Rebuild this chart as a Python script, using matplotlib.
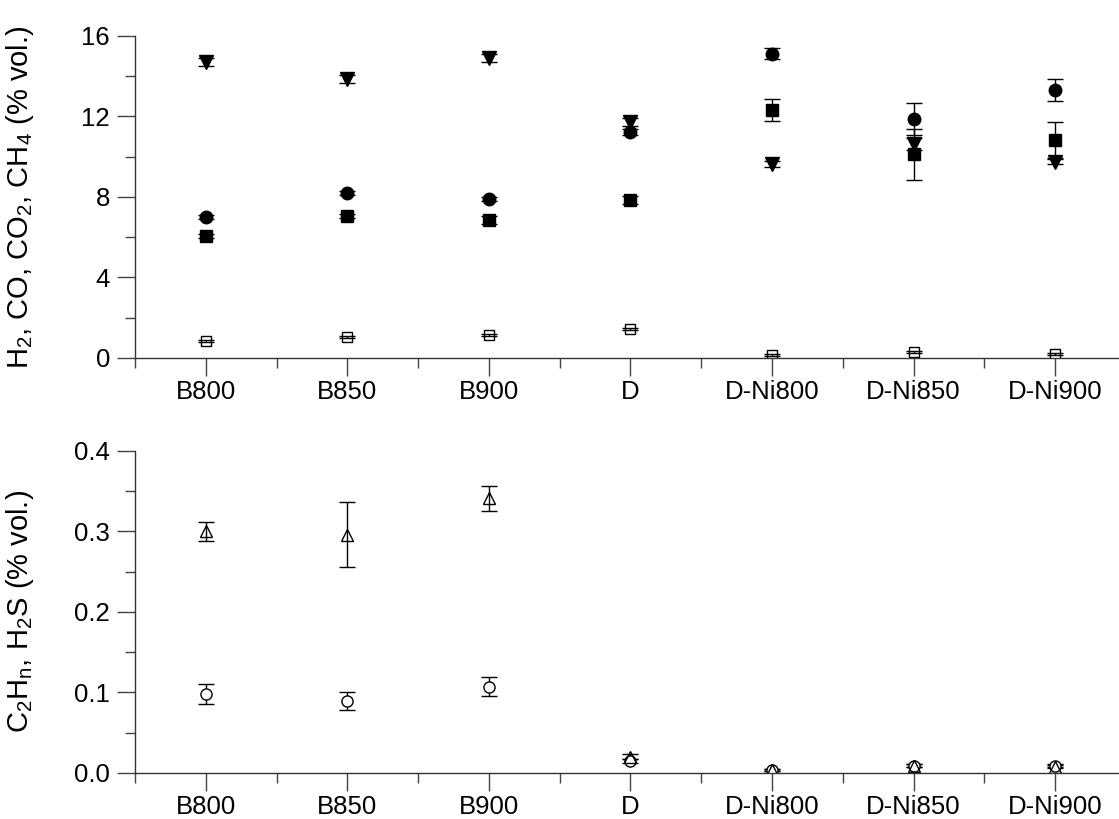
import numpy as np
import matplotlib
matplotlib.use("Agg")
import matplotlib.pyplot as plt
from matplotlib.ticker import MultipleLocator, FixedLocator

plt.rcParams['font.family'] = ['Liberation Sans', 'DejaVu Sans']
plt.rcParams['mathtext.fontset'] = 'custom'
plt.rcParams['mathtext.rm'] = 'Liberation Sans'
plt.rcParams['mathtext.it'] = 'Liberation Sans'

categories = ["B800", "B850", "B900", "D", "D-Ni800", "D-Ni850", "D-Ni900"]

# top panel (% vol.)
h2 = [6.99, 8.20, 7.90, 11.25, 15.12, 11.88, 13.32]
h2_err = [0.10, 0.10, 0.10, 0.15, 0.27, 0.78, 0.55]
co = [14.72, 13.85, 14.89, 11.74, 9.62, 10.63, 9.76]
co_err = [0.20, 0.20, 0.20, 0.20, 0.15, 0.28, 0.12]
co2 = [6.06, 7.06, 6.86, 7.85, 12.32, 10.12, 10.83]
co2_err = [0.10, 0.10, 0.20, 0.20, 0.55, 1.27, 0.91]
ch4 = [0.84, 1.03, 1.14, 1.43, 0.15, 0.31, 0.20]
ch4_err = [0.05, 0.05, 0.06, 0.06, 0.03, 0.05, 0.04]

# bottom panel (% vol.)
c2hn = [0.300, 0.296, 0.341, 0.020, 0.004, 0.009, 0.008]
c2hn_err = [0.012, 0.040, 0.016, 0.003, 0.001, 0.002, 0.002]
h2s = [0.098, 0.089, 0.107, 0.015, 0.004, 0.009, 0.009]
h2s_err = [0.012, 0.011, 0.012, 0.002, 0.001, 0.002, 0.002]

x = np.arange(len(categories))

fig = plt.figure(figsize=(11.19, 8.19), dpi=100)
ax1 = fig.add_axes([0.1206, 0.5629, 0.8856, 0.3932])
ax2 = fig.add_axes([0.1206, 0.0562, 0.8856, 0.3932])

eb = dict(ls='none', color='black', ecolor='black', elinewidth=1.0,
          capsize=6, capthick=1.0)

ax1.errorbar(x, ch4, yerr=ch4_err, marker='s', ms=7, mfc='none', mec='black', mew=1.0, **eb)
ax1.errorbar(x, co2, yerr=co2_err, marker='s', ms=8, mfc='black', mec='black', **eb)
ax1.errorbar(x, co, yerr=co_err, marker='v', ms=10, mfc='black', mec='black', **eb)
ax1.errorbar(x, h2, yerr=h2_err, marker='o', ms=9, mfc='black', mec='black', **eb)

ax2.errorbar(x, h2s, yerr=h2s_err, marker='o', ms=8, mfc='white', mec='black', mew=1.0, **eb)
ax2.errorbar(x, c2hn, yerr=c2hn_err, marker='^', ms=9, mfc='none', mec='black', mew=1.0, **eb)

for ax in (ax1, ax2):
    ax.set_xlim(-0.5, 6.5)
    ax.set_xticks(x)
    ax.set_xticklabels(categories)
    ax.xaxis.set_minor_locator(FixedLocator(np.arange(-0.5, 7, 1.0)))
    ax.spines['top'].set_visible(False)
    ax.spines['right'].set_visible(False)
    for s in ('left', 'bottom'):
        ax.spines[s].set_linewidth(1.0)
        ax.spines[s].set_color('#333333')
    ax.tick_params(which='major', direction='out', length=13, width=1.0,
                   color='#444444', labelsize=18.5, pad=3)
    ax.tick_params(which='minor', direction='out', length=7, width=1.0,
                   color='#444444')
    ax.tick_params(axis='y', which='major', pad=5)

ax1.set_ylim(0, 16)
ax1.yaxis.set_major_locator(MultipleLocator(4))
ax1.yaxis.set_minor_locator(MultipleLocator(2))
ax1.set_ylabel("H$_2$, CO, CO$_2$, CH$_4$ (% vol.)", fontsize=21)
ax1.yaxis.set_label_coords(-0.1, 0.5)

ax2.set_ylim(0, 0.4)
ax2.yaxis.set_major_locator(MultipleLocator(0.1))
ax2.yaxis.set_minor_locator(MultipleLocator(0.05))
ax2.yaxis.set_major_formatter(matplotlib.ticker.FormatStrFormatter('%.1f'))
ax2.set_ylabel("C$_2$H$_n$, H$_2$S (% vol.)", fontsize=21)
ax2.yaxis.set_label_coords(-0.1, 0.5)

fig.savefig("out.png", dpi=100)
